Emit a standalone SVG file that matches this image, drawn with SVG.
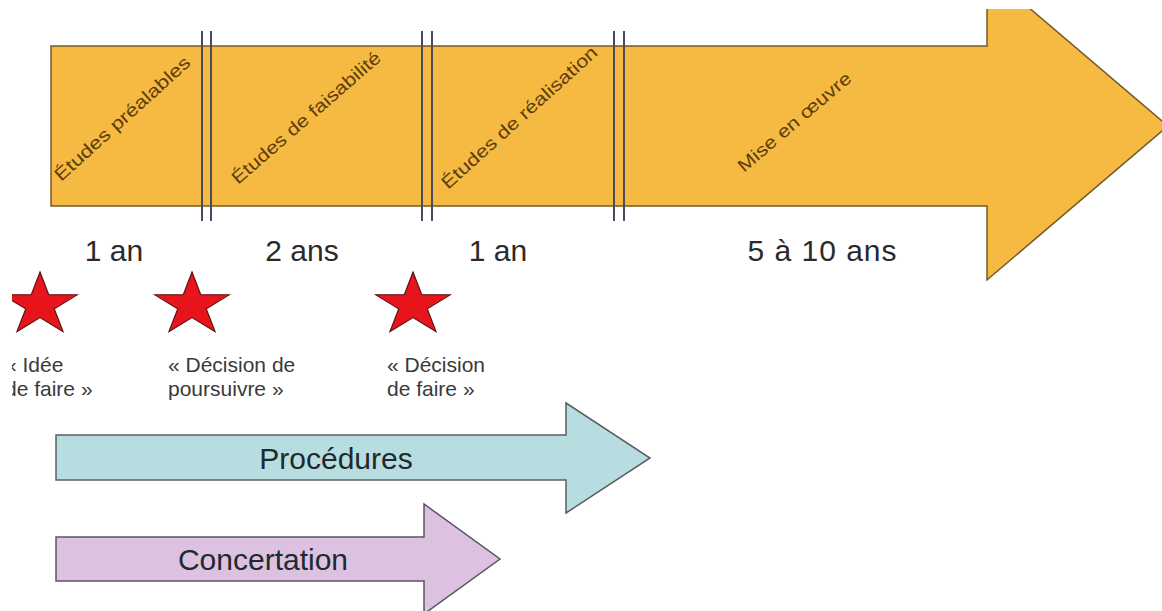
<svg xmlns="http://www.w3.org/2000/svg" width="1162" height="611" viewBox="0 0 1162 611">
<style>
.phase{fill:#5b3e0c;font-family:"Liberation Sans",Arial,sans-serif;font-size:18px}
.dur{fill:#2a2a2a;font-family:"Liberation Sans",Arial,sans-serif;font-size:30px;text-anchor:middle}
.lab{fill:#3a3a3a;font-family:"Liberation Sans",Arial,sans-serif;font-size:21px}
.big{fill:#1e2a2e;font-family:"Liberation Sans",Arial,sans-serif;font-size:30px;text-anchor:middle}
.div{stroke:#4a4a5e;stroke-width:2}
.star{fill:#e8141c;stroke:#5a1010;stroke-width:1}
</style>
<defs>
<clipPath id="frame"><rect x="12" y="9" width="1150" height="602"/></clipPath>
<path id="starShape" d="M0,-33 L7.4,-10.2 L31.4,-10.2 L12,3.9 L19.4,26.7 L0,12.6 L-19.4,26.7 L-12,3.9 L-31.4,-10.2 L-7.4,-10.2Z"/>
</defs>
<rect width="1162" height="611" fill="#ffffff"/>
<g clip-path="url(#frame)">
<g id="timeline">
<polygon points="51,46 987,46 987,-28 1168,126 987,280 987,206 51,206" fill="#f6b942" stroke="#75592a" stroke-width="1.5"/>
<text class="phase" transform="translate(61,182) rotate(-42)" textLength="176" lengthAdjust="spacingAndGlyphs">Études préalables</text>
<text class="phase" transform="translate(238,185) rotate(-41)" textLength="191" lengthAdjust="spacingAndGlyphs">Études de faisabilité</text>
<text class="phase" transform="translate(448,190) rotate(-42)" textLength="203" lengthAdjust="spacingAndGlyphs">Études de réalisation</text>
<text class="phase" transform="translate(744,173) rotate(-40.5)" textLength="143" lengthAdjust="spacingAndGlyphs">Mise en œuvre</text>
</g>
<g id="connectors">
<line class="div" x1="202" y1="31" x2="202" y2="221" stroke-width="3" stroke="#5c5c78"/>
<line class="div" x1="211" y1="31" x2="211" y2="221" stroke="#1a1a28"/>
<line class="div" x1="422" y1="31" x2="422" y2="221"/>
<line class="div" x1="432" y1="31" x2="432" y2="221"/>
<line class="div" x1="614" y1="31" x2="614" y2="221"/>
<line class="div" x1="624" y1="31" x2="624" y2="221"/>
</g>
<g id="durations">
<text class="dur" x="114" y="261">1 an</text>
<text class="dur" x="302" y="261">2 ans</text>
<text class="dur" x="498" y="261">1 an</text>
<text class="dur" x="822" y="261" textLength="149" lengthAdjust="spacing">5 à 10 ans</text>
</g>
<g id="star1">
<use href="#starShape" class="star" transform="translate(40,305) scale(1.19,1)"/>
<text class="lab" x="5" y="372">« Idée</text>
<text class="lab" x="5" y="396">de faire »</text>
</g>
<g id="star2">
<use href="#starShape" class="star" transform="translate(192,305) scale(1.19,1)"/>
<text class="lab" x="168" y="372">« Décision de</text>
<text class="lab" x="168" y="396">poursuivre »</text>
</g>
<g id="star3">
<use href="#starShape" class="star" transform="translate(413,305) scale(1.19,1)"/>
<text class="lab" x="387" y="372">« Décision</text>
<text class="lab" x="387" y="396">de faire »</text>
</g>
<g id="procedures">
<polygon points="56,435 566,435 566,403 650,458 566,513 566,480 56,480" fill="#b7dde0" stroke="#5a5f62" stroke-width="1.5"/>
<text class="big" x="336" y="469">Procédures</text>
</g>
<g id="concertation">
<polygon points="56,537 424,537 424,504 500,559 424,614 424,581 56,581" fill="#dcc2e0" stroke="#5a5560" stroke-width="1.5"/>
<text class="big" x="263" y="570" fill="#2a1f2e">Concertation</text>
</g>
</g>
</svg>
